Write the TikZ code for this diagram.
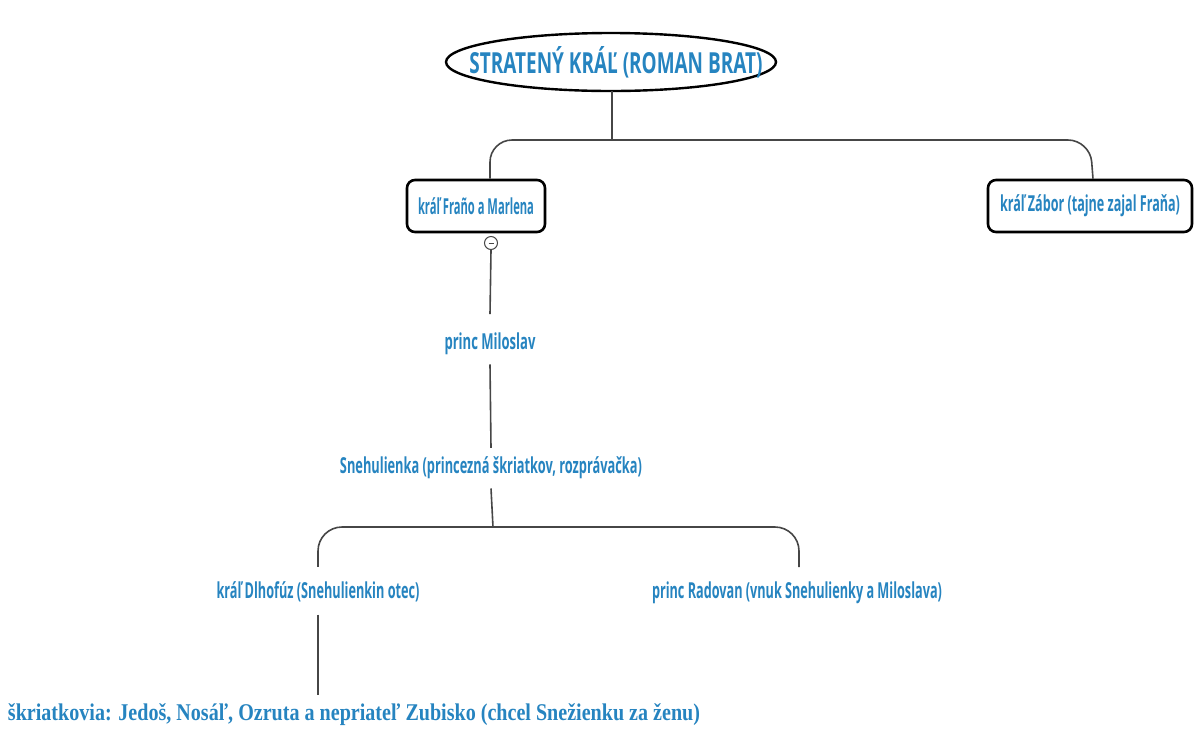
\documentclass[tikz,border=0pt]{standalone}
\usepackage{fontspec}
\usepackage{graphicx}
\setmainfont{Open Sans}
\newfontfamily\serifbold{Liberation Serif}
\definecolor{txtblue}{RGB}{38,132,192}
\definecolor{linegray}{RGB}{70,70,70}
\newcommand{\fitw}[2]{\resizebox{#1}{\height}{#2}}
\tikzset{
  conn/.style={draw=linegray, line width=1.6pt},
  lbl/.style={text=txtblue, font=\bfseries\fontsize{22}{26}\selectfont, inner sep=0pt},
  boxnode/.style={draw=black, line width=2.6pt, rounded corners=8pt, fill=white, text=txtblue, font=\bfseries\fontsize{22}{26}\selectfont, minimum height=52pt, inner sep=0pt},
  titletext/.style={text=txtblue, font=\bfseries\fontsize{29}{34}\selectfont, inner sep=0pt},
  collapse/.style={circle, draw=linegray, line width=1pt, fill=white, minimum size=13pt, inner sep=0pt}
}
\begin{document}
\begin{tikzpicture}[x=1pt,y=-1pt]
\useasboundingbox (0,0) rectangle (1195,729);
% title ellipse
\draw[black, line width=2.4pt] (611,62) ellipse [x radius=165, y radius=29];
\node[titletext, anchor=base] (title) at (616,73) {\fitw{293pt}{STRATENÝ KRÁĽ (ROMAN BRAT)}};
\coordinate (tb) at (612,91);
% nodes
\node[boxnode, minimum width=138pt] (fr) at (476,206) {\fitw{116pt}{kráľ Fraño a Marlena}};
\node[boxnode, minimum width=204pt] (zb) at (1090,206) {\fitw{180pt}{kráľ Zábor (tajne zajal Fraňa)}};
\node[collapse] (col) at (491,243) {};
\draw[linegray, line width=0.9pt] ([xshift=-2.5pt]col.center) -- ([xshift=2.5pt]col.center);
\node[lbl, anchor=base] (mil) at (490,349) {\fitw{91pt}{princ Miloslav}};
\node[lbl, anchor=base] (sn) at (491,473) {\fitw{302pt}{Snehulienka (princezná škriatkov, rozprávačka)}};
\node[lbl, anchor=base] (dl) at (318,598) {\fitw{203pt}{kráľ Dlhofúz (Snehulienkin otec)}};
\node[lbl, anchor=base] (rad) at (797,598) {\fitw{290pt}{princ Radovan (vnuk Snehulienky a Miloslava)}};
\node[text=txtblue, inner sep=0pt, anchor=base] (bot) at (354,720) {\serifbold\bfseries\fitw{692pt}{\fontsize{24}{28}\selectfont škriatkovia: Jedoš, Nosáľ, Ozruta a nepriateľ Zubisko (chcel Snežienku za ženu)}};
% coordinates
\coordinate (j1) at (612,140);
\coordinate (j2) at (493,527);
% connectors
\draw[conn] (tb) -- (j1);
\draw[conn, rounded corners=22pt] ([xshift=14pt]fr.north) -- ([xshift=14pt]fr.north |- j1) -- (zb.north |- j1) -- ([xshift=3pt]zb.north);
\draw[conn] (col.south) -- ([yshift=18pt]mil.north);
\draw[conn] ([yshift=-10pt]mil.south) -- ([yshift=8pt]sn.north);
\draw[conn] ([yshift=-10pt]sn.south) -- (j2);
\draw[conn, rounded corners=24pt] ([yshift=14pt]dl.north) -- (dl.north |- j2) -- ([xshift=2pt]rad.north |- j2) -- ([xshift=2pt,yshift=14pt]rad.north);
\draw[conn] ([yshift=-13pt]dl.south) -- ([yshift=8pt]bot.north -| dl.south);
\end{tikzpicture}
\end{document}
